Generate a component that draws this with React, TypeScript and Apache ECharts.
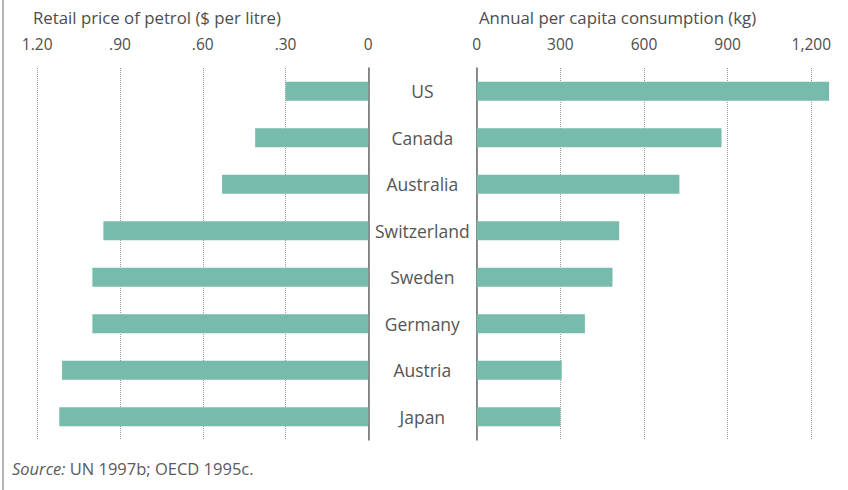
import React, { useEffect, useRef } from "react";
import * as echarts from "echarts";

const countries = ["US", "Canada", "Australia", "Switzerland", "Sweden", "Germany", "Austria", "Japan"];
const petrolPrice = [0.3, 0.41, 0.53, 0.96, 1.0, 1.0, 1.11, 1.12];
const consumption = [1264, 878, 727, 511, 487, 388, 305, 300];
const priceTicks = [0, 0.3, 0.6, 0.9, 1.2];
const consumptionTicks = [0, 300, 600, 900, 1200];

const BAR = "#77bbad";
const TEXT = "#4d4d4d";
const FONT = "Open Sans";

function fmtPrice(v: number): string {
  if (v === 0) return "0";
  const s = v.toFixed(2);
  return s.startsWith("0") ? s.slice(1) : s;
}

export default function App() {
  const ref = useRef<HTMLDivElement>(null);
  useEffect(() => {
    if (!ref.current) return;
    const chart = echarts.init(ref.current, undefined, { renderer: "svg" });
    const splitLine = { show: true, lineStyle: { color: "#9a9a9a", type: "dotted" as const, width: 1 } };
    chart.setOption({
      animation: false,
      backgroundColor: "#ffffff",
      textStyle: { fontFamily: FONT },
      grid: [
        { left: 37.2, right: 848 - 368.3, top: 68, bottom: 50, containLabel: false },
        { left: 476.7, right: 848 - 811.3, top: 68, bottom: 50, containLabel: false },
      ],
      xAxis: [
        {
          gridIndex: 0,
          type: "value",
          inverse: true,
          position: "top",
          min: priceTicks[0],
          max: priceTicks[priceTicks.length - 1],
          interval: 0.3,
          axisLine: { show: false },
          axisTick: { show: false },
          splitLine,
          axisLabel: { margin: 16, color: TEXT, fontSize: 15.5, fontFamily: FONT, formatter: (v: number) => fmtPrice(v) },
        },
        {
          gridIndex: 1,
          type: "value",
          position: "top",
          min: consumptionTicks[0],
          max: consumptionTicks[consumptionTicks.length - 1],
          interval: 300,
          axisLine: { show: false },
          axisTick: { show: false },
          splitLine,
          axisLabel: {
            margin: 16,
            color: TEXT,
            fontSize: 15.5,
            fontFamily: FONT,
            formatter: (v: number) => v.toLocaleString("en-US"),
          },
        },
      ],
      yAxis: [
        {
          gridIndex: 0,
          type: "category",
          data: countries,
          inverse: true,
          position: "right",
          axisLine: { show: true, lineStyle: { color: "#6a6a6a", width: 1.5 } },
          axisTick: { show: false },
          axisLabel: { margin: 54, align: "center", color: "#555555", fontSize: 17.5, fontFamily: FONT },
        },
        {
          gridIndex: 1,
          type: "category",
          data: countries,
          inverse: true,
          position: "left",
          axisLine: { show: true, lineStyle: { color: "#6a6a6a", width: 1.5 } },
          axisTick: { show: false },
          axisLabel: { show: false },
        },
      ],
      series: [
        {
          type: "bar",
          xAxisIndex: 0,
          yAxisIndex: 0,
          data: petrolPrice,
          barWidth: 19,
          clip: false,
          itemStyle: { color: BAR },
        },
        {
          type: "bar",
          xAxisIndex: 1,
          yAxisIndex: 1,
          data: consumption,
          barWidth: 19,
          clip: false,
          itemStyle: { color: BAR },
        },
      ],
      graphic: [
        { type: "rect", shape: { x: 2, y: 0, width: 2, height: 490 }, style: { fill: "#b5b5b5" } },
        {
          type: "text",
          x: 33,
          y: 17,
          style: { text: "Retail price of petrol ($ per litre)", fill: TEXT, font: `16.8px "${FONT}"`, verticalAlign: "middle" },
        },
        {
          type: "text",
          x: 479,
          y: 17,
          style: { text: "Annual per capita consumption (kg)", fill: TEXT, font: `16.8px "${FONT}"`, verticalAlign: "middle" },
        },
        {
          type: "text",
          x: 12,
          y: 468,
          style: {
            text: "{i|Source:} UN 1997b; OECD 1995c.",
            fill: "#5a5a5a",
            font: `16.5px "${FONT}"`,
            verticalAlign: "middle",
            rich: { i: { fontStyle: "italic", fontSize: 16.5, fontFamily: FONT, fill: "#5a5a5a" } },
          },
        },
      ],
    });
    return () => chart.dispose();
  }, []);
  return <div ref={ref} style={{ position: "fixed", left: 0, top: 0, width: 848, height: 490 }} />;
}
